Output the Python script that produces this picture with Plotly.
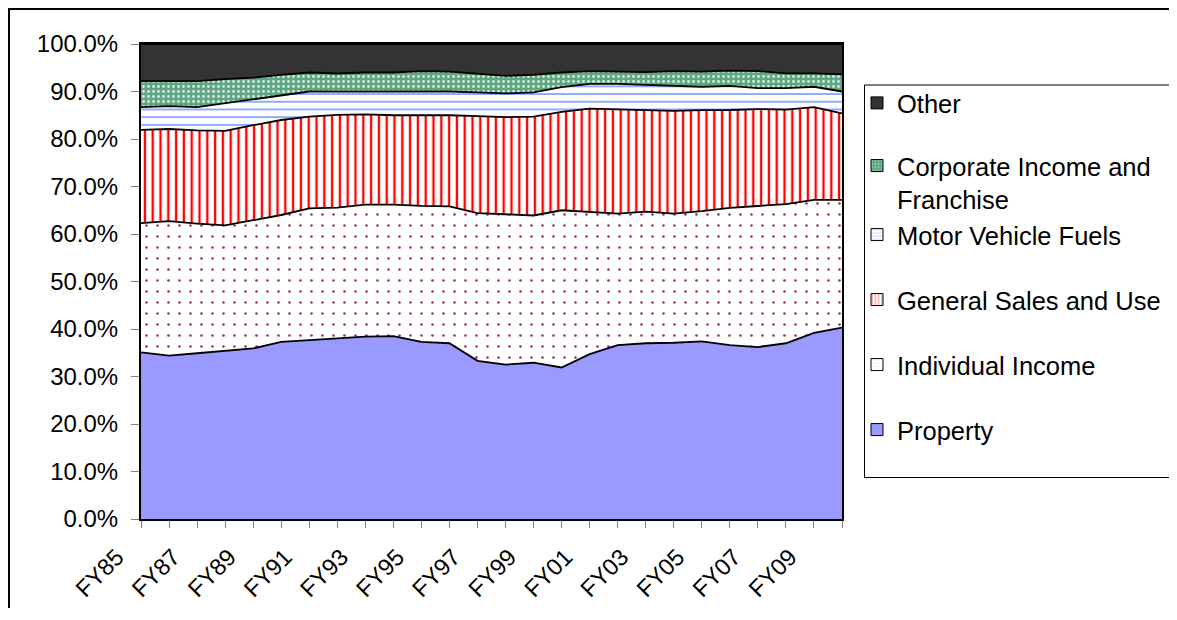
import plotly.graph_objects as go

# ---------------- data (percent share of state & local tax revenue) ----------------
years = ["FY85", "FY86", "FY87", "FY88", "FY89", "FY90", "FY91", "FY92", "FY93",
         "FY94", "FY95", "FY96", "FY97", "FY98", "FY99", "FY00", "FY01", "FY02",
         "FY03", "FY04", "FY05", "FY06", "FY07", "FY08", "FY09", "FY10"]

property_tax = [35.1, 34.4, 34.9, 35.4, 35.9, 37.3, 37.7, 38.0, 38.4, 38.5, 37.3, 37.0, 33.3,
                32.5, 32.9, 31.9, 34.7, 36.6, 37.0, 37.1, 37.4, 36.6, 36.2, 37.0, 39.2, 40.3]
individual_income = [27.2, 28.3, 27.3, 26.4, 27.0, 26.7, 27.7, 27.5, 27.8, 27.7, 28.6, 28.8, 31.1,
                     31.7, 31.0, 33.1, 29.9, 27.7, 27.7, 27.2, 27.4, 28.9, 29.7, 29.3, 28.0, 26.9]
general_sales = [19.6, 19.4, 19.6, 19.9, 20.0, 20.0, 19.3, 19.5, 19.0, 18.8, 19.1, 19.2, 20.4,
                 20.4, 20.8, 20.7, 21.8, 22.0, 21.4, 21.6, 21.3, 20.6, 20.4, 19.9, 19.5, 18.2]
motor_fuels = [4.8, 4.8, 4.9, 5.8, 5.5, 5.1, 5.3, 4.9, 4.8, 5.0, 5.0, 5.0, 5.0,
               5.0, 5.1, 5.2, 5.2, 5.3, 5.3, 5.3, 4.9, 5.1, 4.4, 4.5, 4.3, 4.6]
corporate = [5.5, 5.3, 5.5, 5.1, 4.5, 4.4, 4.0, 3.8, 4.0, 4.0, 4.3, 4.2, 4.0,
             3.7, 3.7, 3.1, 2.7, 2.6, 2.7, 3.1, 3.2, 3.2, 3.6, 3.1, 2.8, 3.6]
other = [7.8, 7.8, 7.8, 7.4, 7.1, 6.5, 6.0, 6.2, 6.0, 6.0, 5.7, 5.8, 6.2,
         6.7, 6.5, 6.0, 5.7, 5.8, 5.9, 5.7, 5.8, 5.6, 5.7, 6.2, 6.2, 6.4]

series_names = ["Property", "Individual Income", "General Sales and Use",
                "Motor Vehicle Fuels", "Corporate Income and<br>Franchise", "Other"]
series_values = [property_tax, individual_income, general_sales, motor_fuels, corporate, other]

x_tick_labels = years[::2]          # FY85, FY87, ... FY09
y_tick_values = list(range(0, 101, 10))

# ---------------- layout geometry ----------------
PAGE_MARGIN = 8                      # default <body> margin of the html page
W, H = 1177 - PAGE_MARGIN, 600
L, R, T, B = 141, 842, 44, 519       # plot area in window pixels
FONT = "Liberation Sans, Arial, sans-serif"


def px_to_paper_x(px):
    return (px - L) / (R - L)


def py_to_paper_y(py):
    return (B - py) / (B - T)


styles = [
    dict(bg="#9999FF", pattern=dict(shape="")),
    dict(bg="white", pattern=dict(shape=".", fgcolor="#993366", bgcolor="white", size=11, solidity=0.045)),
    dict(bg="white", pattern=dict(shape="|", fgcolor="#FF0000", bgcolor="white", size=7.8, solidity=0.3)),
    dict(bg="white", pattern=dict(shape="-", fgcolor="#6E94FF", bgcolor="white", size=7.7, solidity=0.2)),
    dict(bg="#5EA781", pattern=dict(shape=".", fgcolor="#D8EDE2", bgcolor="#5EA781", size=5, solidity=0.25)),
    dict(bg="#333333", pattern=dict(shape="")),
]

legend_text_y = [430, 365, 300, 235, 182.5, 103.3]   # window-pixel centres of legend entries
legend_left_px = 857

fig = go.Figure()

# stacked areas
for name, vals, st in zip(series_names, series_values, styles):
    fp = st["pattern"]
    kw = {}
    if fp.get("shape"):
        kw["fillpattern"] = dict(shape=fp["shape"], fgcolor=fp["fgcolor"], bgcolor=fp["bgcolor"],
                                 size=fp["size"], solidity=fp["solidity"], fillmode="replace")
    fig.add_trace(go.Scatter(
        x=years, y=vals, name=name.replace("<br>", " "), mode="lines",
        stackgroup="one", groupnorm="percent",
        line=dict(color="black", width=1.8),
        fillcolor=st["bg"], showlegend=False, hoverinfo="skip", **kw))

# legend entries (square swatches like the original)
for k, (name, st) in enumerate(zip(series_names, styles)):
    fp = st["pattern"]
    if fp.get("shape"):
        marker = dict(color=st["bg"], line=dict(color="black", width=1),
                      pattern=dict(shape=fp["shape"], fgcolor=fp["fgcolor"], bgcolor=fp["bgcolor"],
                                   size=4, solidity=fp["solidity"]))
    else:
        marker = dict(color=st["bg"], line=dict(color="black", width=1))
    lg = "legend" if k == 0 else f"legend{k + 1}"
    fig.add_trace(go.Bar(x=[years[0]], y=[None], name=name, marker=marker,
                         showlegend=True, legend=lg, hoverinfo="skip"))

legend_common = dict(font=dict(family=FONT, size=25.5, color="black"), bgcolor="rgba(0,0,0,0)",
                     borderwidth=0, xanchor="left", yanchor="middle",
                     x=px_to_paper_x(legend_left_px), valign="top", itemclick=False)
layout_legends = {}
for k, ty in enumerate(legend_text_y):
    lg = "legend" if k == 0 else f"legend{k + 1}"
    layout_legends[lg] = dict(legend_common, y=py_to_paper_y(ty))

fig.update_layout(
    width=W, height=H,
    margin=dict(l=L - PAGE_MARGIN, r=W - (R - PAGE_MARGIN), t=T - PAGE_MARGIN,
                b=H - (B - PAGE_MARGIN), autoexpand=False),
    paper_bgcolor="white", plot_bgcolor="white",
    font=dict(family=FONT, size=24, color="black"),
    xaxis=dict(
        type="category", range=[0, len(years) - 1],
        tickmode="array", tickvals=years,
        ticktext=[y if y in x_tick_labels else "" for y in years],
        tickangle=-45, ticks="outside", ticklen=7, tickcolor="#808080", tickwidth=1,
        showline=True, linecolor="black", linewidth=2, mirror=True,
        showgrid=False, zeroline=False, tickfont=dict(family=FONT, size=23.5),
        ticklabelshift=-24, ticklabelstandoff=6,
    ),
    yaxis=dict(
        range=[0, 100], tickmode="array", tickvals=y_tick_values,
        ticktext=[f"{v:.1f}%" for v in y_tick_values],
        ticks="outside", ticklen=8, tickcolor="#808080", tickwidth=1,
        showline=True, linecolor="black", linewidth=2, mirror=True,
        showgrid=False, zeroline=False, tickfont=dict(family=FONT, size=24),
        ticklabelstandoff=8,
    ),
    showlegend=True,
    shapes=[
        # outer chart border
        dict(type="rect", xref="paper", yref="paper", layer="below",
             x0=px_to_paper_x(9), x1=px_to_paper_x(1200),
             y0=py_to_paper_y(650), y1=py_to_paper_y(9),
             line=dict(color="black", width=2), fillcolor="rgba(0,0,0,0)"),
        # legend box
        dict(type="rect", xref="paper", yref="paper", layer="below",
             x0=px_to_paper_x(864.5), x1=px_to_paper_x(1175.5),
             y0=py_to_paper_y(477.5), y1=py_to_paper_y(85),
             line=dict(color="black", width=1), fillcolor="rgba(0,0,0,0)"),
    ],
    **layout_legends,
)

fig.write_html("out.html")
